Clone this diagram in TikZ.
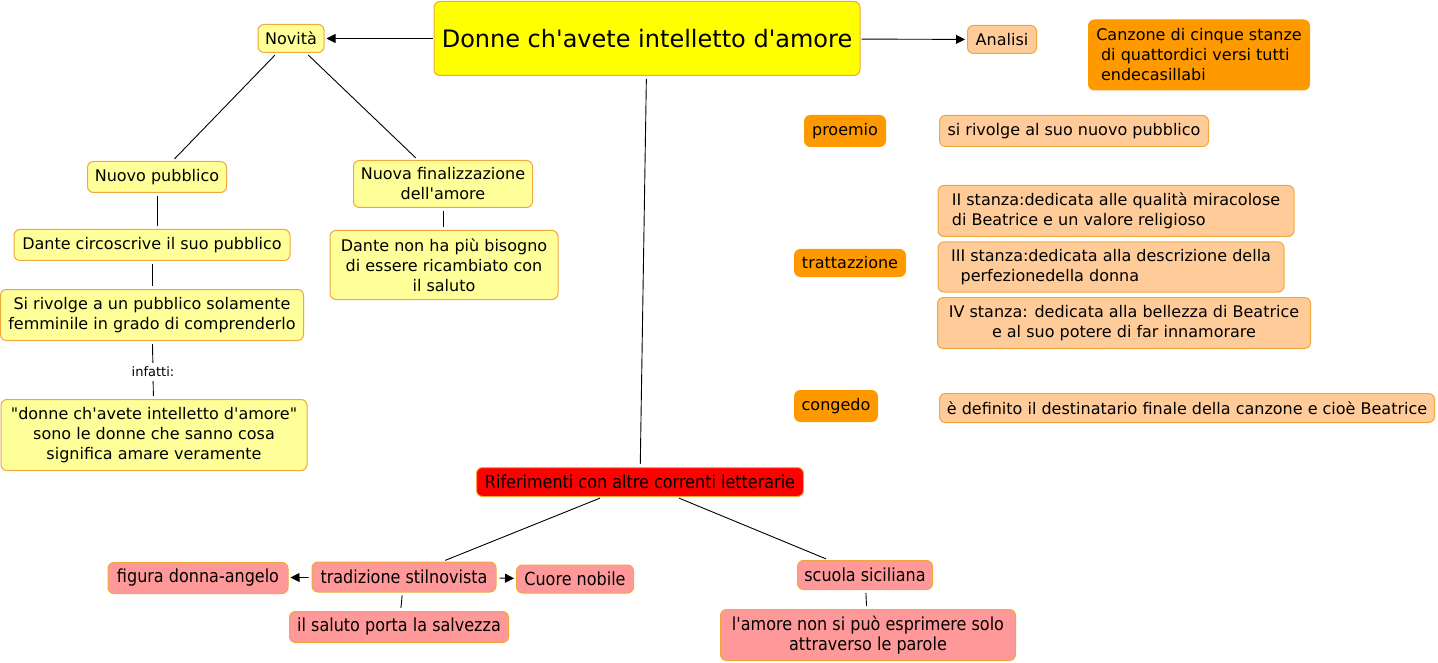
\documentclass[tikz,border=0pt]{standalone}
\usepackage{fontspec}
\setmainfont{DejaVu Sans}[Ligatures=TeXOff]
\newfontfamily\narrowfont{DejaVu Sans}[FakeStretch=0.89,Ligatures=TeXOff]
\usepackage{xcolor}
\usepackage{tikz}
\usetikzlibrary{arrows.meta,positioning}
\definecolor{titleyellow}{RGB}{255,255,0}
\definecolor{paleyellow}{RGB}{255,255,153}
\definecolor{peach}{RGB}{255,204,153}
\definecolor{deeporange}{RGB}{255,153,0}
\definecolor{refred}{RGB}{255,0,0}
\definecolor{salmon}{RGB}{255,153,153}
\definecolor{edgeorange}{RGB}{240,168,60}
\tikzset{
  concept/.style={rectangle, rounded corners=6pt, draw=edgeorange, line width=1pt, inner sep=2pt, align=center, font=\fontsize{16}{20}\selectfont},
  novita/.style={concept, fill=paleyellow},
  analisi/.style={concept, fill=peach},
  sezione/.style={concept, fill=deeporange, draw=deeporange},
  riferim/.style={concept, fill=salmon, font=\narrowfont\fontsize{18}{20}\selectfont},
  link/.style={line width=0.9pt, shorten <=3pt, shorten >=3pt},
  freccia/.style={link, ->, shorten >=2pt},
}

\begin{document}
\begin{tikzpicture}[x=1pt, y=-1pt, >={Triangle[length=9pt,width=9pt]}]
\useasboundingbox (0,0) rectangle (1438,663);
% Centre: title
\node[concept, fill=titleyellow, minimum width=426, minimum height=74, font=\fontsize{24}{28}\selectfont] (donne) at (647,38.5) {Donne ch'avete intelletto d'amore};
\node[novita, minimum width=66, minimum height=28] (novita) at (291,38.5) {Novità};
\node[analisi, minimum width=69, minimum height=28] (analisi) at (1002,39.5) {Analisi};
\draw[freccia,shorten <=1pt] (donne) -- (novita);
\draw[freccia,shorten <=1pt] (donne) -- (analisi);
% Analisi: parts of the canzone
\node[sezione, minimum width=221, minimum height=70, align=left] (canzone) at (1199,55) {Canzone di cinque stanze\\\hspace*{0.3em}di quattordici versi tutti\\\hspace*{0.3em}endecasillabi};
\node[sezione, minimum width=81, minimum height=31] (proemio) at (845,131) {proemio};
\node[analisi, minimum width=269, minimum height=31] (nuovo) at (1074,131) {si rivolge al suo nuovo pubblico};
\node[sezione, minimum width=111, minimum height=27] (tratt) at (850,263) {trattazzione};
\node[analisi, minimum width=356, minimum height=51, align=left] (stanza2) at (1116,211) {II stanza:dedicata alle qualità miracolose\\di Beatrice e un valore religioso};
\node[analisi, minimum width=346, minimum height=50, align=left] (stanza3) at (1111,267) {III stanza:dedicata alla descrizione della\\\hspace*{0.6em}perfezionedella donna};
\node[analisi, minimum width=373, minimum height=51] (stanza4) at (1124,323) {IV stanza: dedicata alla bellezza di Beatrice\\e al suo potere di far innamorare};
\node[sezione, minimum width=83, minimum height=31] (congedo) at (836,406) {congedo};
\node[analisi, minimum width=495, minimum height=29] (destin) at (1187,408) {è definito il destinatario finale della canzone e cioè Beatrice};
% Novita: left branch
\node[novita, minimum width=139, minimum height=31] (pubblico) at (157,177) {Nuovo pubblico};
\node[novita, minimum width=276, minimum height=31] (circ) at (152,245) {Dante circoscrive il suo pubblico};
\node[novita, minimum width=303, minimum height=51] (rivolge) at (152,315) {Si rivolge a un pubblico solamente\\femminile in grado di comprenderlo};
\node[font=\fontsize{13}{15}\selectfont, inner sep=1pt] (infatti) at (153,372) {infatti:};
\node[novita, minimum width=306, minimum height=71] (donnesanno) at (154,435) {"donne ch'avete intelletto d'amore"\\sono le donne che sanno cosa\\significa amare veramente};
\draw[link] (novita) -- (pubblico);
\draw[link] (pubblico.south) -- (pubblico.south |- circ.north);
\draw[link] (circ) -- (rivolge);
\draw[link] (rivolge) -- (infatti);
\draw[link] (infatti) -- (donnesanno);
% Novita: right branch
\node[novita, minimum width=179, minimum height=47] (finalizz) at (443,184) {Nuova finalizzazione\\dell'amore};
\node[novita, minimum width=228, minimum height=69] (saluto) at (444,265) {Dante non ha più bisogno\\di essere ricambiato con\\il saluto};
\draw[link] (novita) -- (finalizz);
\draw[link] (finalizz.south) -- (finalizz.south |- saluto.north);
% Riferimenti
\node[riferim, fill=refred, minimum width=327, minimum height=29] (rif) at (640,482) {Riferimenti con altre correnti letterarie};
\draw[link] (donne) -- (rif);
\node[riferim, minimum width=184, minimum height=30] (stilnov) at (404,577) {tradizione stilnovista};
\node[riferim, minimum width=180, minimum height=31] (angelo) at (198,578) {figura donna-angelo};
\node[riferim, minimum width=117, minimum height=28] (cuore) at (575,579) {Cuore nobile};
\node[riferim, minimum width=219, minimum height=31] (salvezza) at (399,627) {il saluto porta la salvezza};
\node[riferim, minimum width=135, minimum height=29] (sicil) at (865,575) {scuola siciliana};
\node[riferim, minimum width=295, minimum height=51] (parole) at (868,635) {l'amore non si può esprimere solo\\attraverso le parole};
\draw[link] (rif) -- (stilnov);
\draw[link] (rif) -- (sicil);
\draw[freccia] (stilnov) -- (angelo);
\draw[freccia] (stilnov) -- (cuore);
\draw[link] (stilnov) -- (salvezza);
\draw[link] (sicil) -- (parole);
\end{tikzpicture}
\end{document}
